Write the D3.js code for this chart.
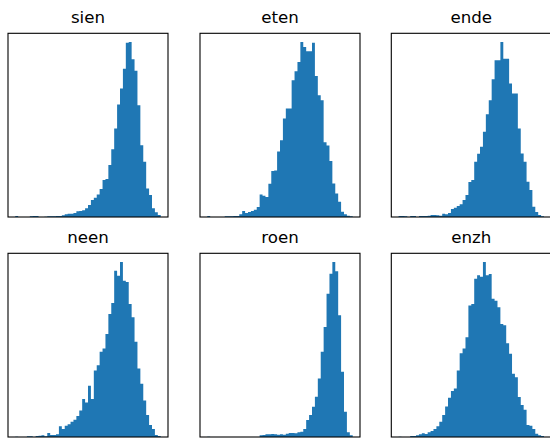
<!DOCTYPE html>
<html>
<head>
<meta charset="utf-8">
<script src="https://cdn.jsdelivr.net/npm/d3@7"></script>
<style>
  html, body { margin: 0; padding: 0; background: #fff; }
  svg { display: block; }
</style>
</head>
<body>
<div id="chart"></div>
<script>
// ---- data: histogram counts, 50 equal-width bins per panel ----
const titles = ["sien", "eten", "ende", "neen", "roen", "enzh"];

const sienCounts = [3,0,0,0,0,2,3,3,0,0, 1,2,2,2,3,3,5,8,10,10,
  12,17,18,20,26,36,51,58,68,84, 111,114,156,204,266,338,386,446,524,526,
  474,440,336,216,166,86,66,26,14,6];

const etenCounts = [3,0,0,0,0,0,2,2,2,3, 3,8,18,12,15,18,22,30,68,64,
  60,100,138,140,197,231,296,326,326,411, 438,466,526,511,498,498,524,424,366,351,
  225,215,168,101,71,46,16,8,4,2];

const endeCounts = [3,3,2,0,3,3,0,3,3,3, 4,6,6,5,4,10,8,12,24,28,
  33,38,51,66,105,111,166,190,211,256, 309,351,414,471,471,526,476,476,401,371,
  371,266,191,166,106,81,31,15,6,2];

const neenCounts = [1,0,0,0,2,2,0,3,4,5, 2,12,6,6,8,32,24,34,38,46,
  52,63,80,114,104,154,114,200,216,256, 266,310,370,403,500,485,526,470,466,400,
  360,286,206,160,110,66,36,24,6,3];

const roenCounts = [1,0,0,0,0,0,0,0,0,0, 0,0,0,0,0,0,0,0,5,6,
  8,8,9,8,7,8,7,10,12,12, 11,14,16,24,51,66,91,121,176,256,
  331,431,491,526,498,366,196,76,14,5];

const enzhCounts = [1,0,0,0,3,3,5,8,11,9, 14,18,24,32,46,66,92,118,138,146,
  200,252,266,300,395,400,476,486,482,526, 486,490,416,410,390,340,336,282,250,190,
  180,120,96,82,36,34,24,10,5,3];

const panelCounts = [sienCounts, etenCounts, endeCounts, neenCounts, roenCounts, enzhCounts];

// ---- layout ----
const W = 550, H = 441;
const colX = [8, 200, 391.3];
const rowY = [33.3, 253.3];
const pw = 160, ph = 183.7;
const barColor = "#1f77b4";

const svg = d3.select("#chart").append("svg")
  .attr("width", W).attr("height", H)
  .attr("viewBox", `0 0 ${W} ${H}`);

svg.append("rect").attr("width", W).attr("height", H).attr("fill", "#fff");

panelCounts.forEach((counts, k) => {
  const left = colX[k % 3], top = rowY[Math.floor(k / 3)];
  const nb = counts.length;
  // step points at bin edges (last bin closed by repeating its count at the right edge)
  const pts = counts.map((c, i) => ({ e: i, c })).concat([{ e: nb, c: counts[nb - 1] }]);
  const x = d3.scaleLinear()
    .domain([-0.05 * nb, nb * 1.05])
    .range([left, left + pw]);
  const y = d3.scaleLinear()
    .domain([0, d3.max(counts) * 1.05])
    .range([top + ph, top]);

  const g = svg.append("g");
  g.append("defs").append("clipPath").attr("id", "clip" + k)
    .append("rect").attr("x", left).attr("y", top).attr("width", pw).attr("height", ph);

  const area = d3.area()
    .x(d => x(d.e))
    .y0(y(0))
    .y1(d => y(d.c))
    .curve(d3.curveStepAfter);

  g.append("path")
    .attr("clip-path", `url(#clip${k})`)
    .attr("d", area(pts))
    .attr("fill", barColor);

  // spines
  g.append("rect")
    .attr("x", left).attr("y", top).attr("width", pw).attr("height", ph)
    .attr("fill", "none").attr("stroke", "#000").attr("stroke-width", 1.1);

  // title
  g.append("text")
    .attr("x", left + pw / 2).attr("y", top - 10.5)
    .attr("text-anchor", "middle")
    .attr("font-family", "DejaVu Sans")
    .attr("font-size", "16.67px")
    .attr("fill", "#000")
    .text(titles[k]);
});
</script>
</body>
</html>
